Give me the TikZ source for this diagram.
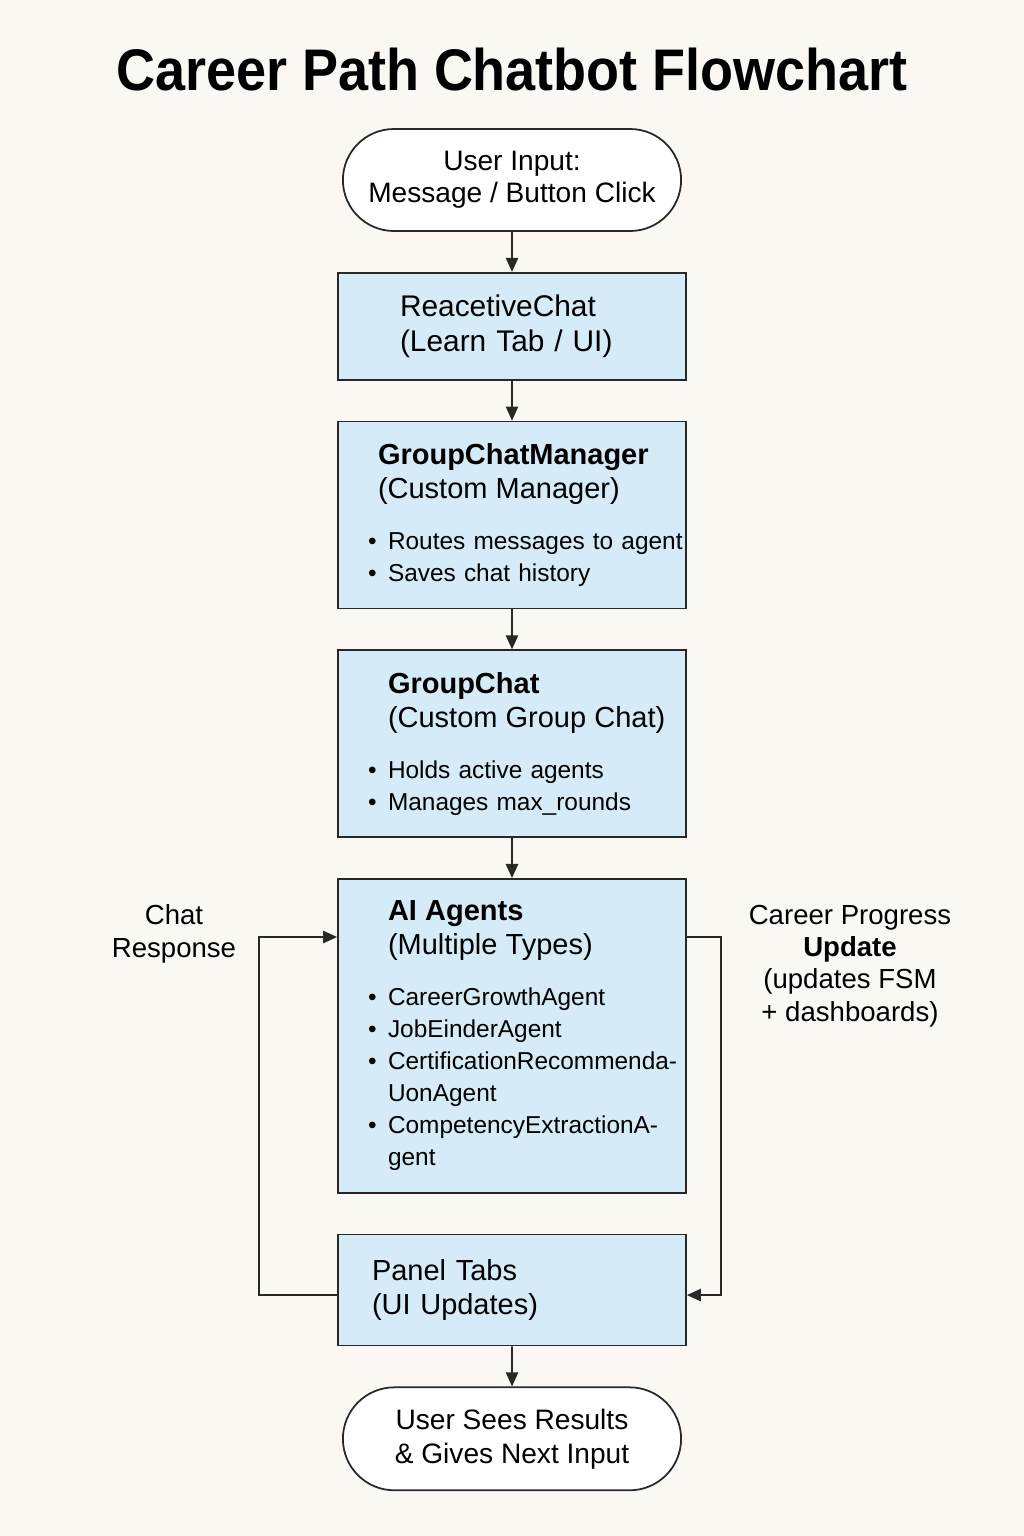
\documentclass[tikz,border=0pt]{standalone}
\usepackage{fontspec}
\setmainfont{Liberation Sans}
\newfontfamily\titlefont[FakeStretch=0.92]{Liberation Sans}
\usepackage{tikz}
\usetikzlibrary{positioning, arrows.meta, shapes.misc}
\definecolor{pagebg}{RGB}{251,248,244}
\definecolor{boxblue}{RGB}{214,235,248}
\definecolor{edgegray}{RGB}{40,40,40}
% indents inside the boxes
\newcommand{\ind}[1]{\hspace*{#1}}
\newcommand{\bul}{\hspace*{0.5cm}\makebox[0.4cm][l]{\textbullet}}
\newcommand{\cont}{\hspace*{0.9cm}}
\newcommand{\hdfont}{\fontsize{16.5}{19.4}\selectfont}
\tikzset{
  terminal/.style={
    rounded rectangle, draw=edgegray, fill=white, line width=1pt,
    minimum width=7.0cm, align=center,
    font=\fontsize{16}{18.2}\selectfont
  },
  procbox/.style={
    rectangle, draw=edgegray, fill=boxblue, line width=1pt,
    minimum width=6.96cm, text width=6.76cm, inner xsep=0.1cm, align=left,
    font=\fontsize{13.9}{18.2}\selectfont
  },
  flow/.style={draw=edgegray, line width=1pt, -{Triangle[length=8pt, width=7pt]}},
  sidenote/.style={align=center, font=\fontsize{15.7}{18.4}\selectfont},
}
\begin{document}
\begin{tikzpicture}[x=0.02cm, y=-0.02cm, node distance=0.8cm]
  \fill[pagebg] (0,0) rectangle (1024,1536);
  \useasboundingbox (0,0) rectangle (1024,1536);

  \node[font=\titlefont\bfseries\fontsize{33.4}{38}\selectfont] (title) at (512,70) {Career Path Chatbot Flowchart};

  \node[terminal, minimum height=2.04cm] (input) at (512,180) {User Input:\\Message / Button Click};
  \node[procbox, minimum height=2.14cm, below=of input, font=\fontsize{17}{19.4}\selectfont] (react)
    {\ind{1.14cm}ReacetiveChat\\\ind{1.14cm}(Learn Tab / UI)};
  \node[procbox, minimum height=3.74cm, below=of react] (manager)
    {{\hdfont\ind{0.7cm}\textbf{GroupChatManager}\\
      \ind{0.7cm}(Custom Manager)\\[0.38cm]}
     \bul \mbox{Routes messages to agent}\\
     \bul Saves chat history};
  \node[procbox, minimum height=3.74cm, below=of manager] (group)
    {{\hdfont\cont\textbf{GroupChat}\\
      \cont(Custom Group Chat)\\[0.38cm]}
     \bul Holds active agents\\
     \bul Manages max\_rounds};
  \node[procbox, minimum height=6.28cm, below=of group] (agents)
    {{\hdfont\cont\textbf{AI Agents}\\
      \cont(Multiple Types)\\[0.38cm]}
     \bul CareerGrowthAgent\\
     \bul JobEinderAgent\\
     \bul \mbox{CertificationRecommenda-}\\
     \cont UonAgent\\
     \bul \mbox{CompetencyExtractionA-}\\
     \cont gent};
  \node[procbox, minimum height=2.22cm, below=of agents, font=\hdfont] (panel)
    {\ind{0.58cm}Panel Tabs\\\ind{0.58cm}(UI Updates)};
  \node[terminal, minimum height=2.06cm, below=of panel, font=\fontsize{16}{19.4}\selectfont] (output)
    {User Sees Results\\\& Gives Next Input};

  % main flow
  \draw[flow] (input) -- (react);
  \draw[flow] (react) -- (manager);
  \draw[flow] (manager) -- (group);
  \draw[flow] (group) -- (agents);
  \draw[flow] (panel) -- (output);

  % feedback loops
  \draw[flow] ([yshift=-0.1cm]panel.west) -- ++(-78,0) |- ([yshift=-1.18cm]agents.north west);
  \draw[flow] ([yshift=-1.18cm]agents.north east) -- ++(34,0) |- ([yshift=-0.1cm]panel.east);

  \node[sidenote] (chatlbl) at (174,934) {Chat\\Response};
  \node[sidenote] (progresslbl) at (850,966) {Career Progress\\\textbf{Update}\\(updates FSM\\+ dashboards)};
\end{tikzpicture}
\end{document}
